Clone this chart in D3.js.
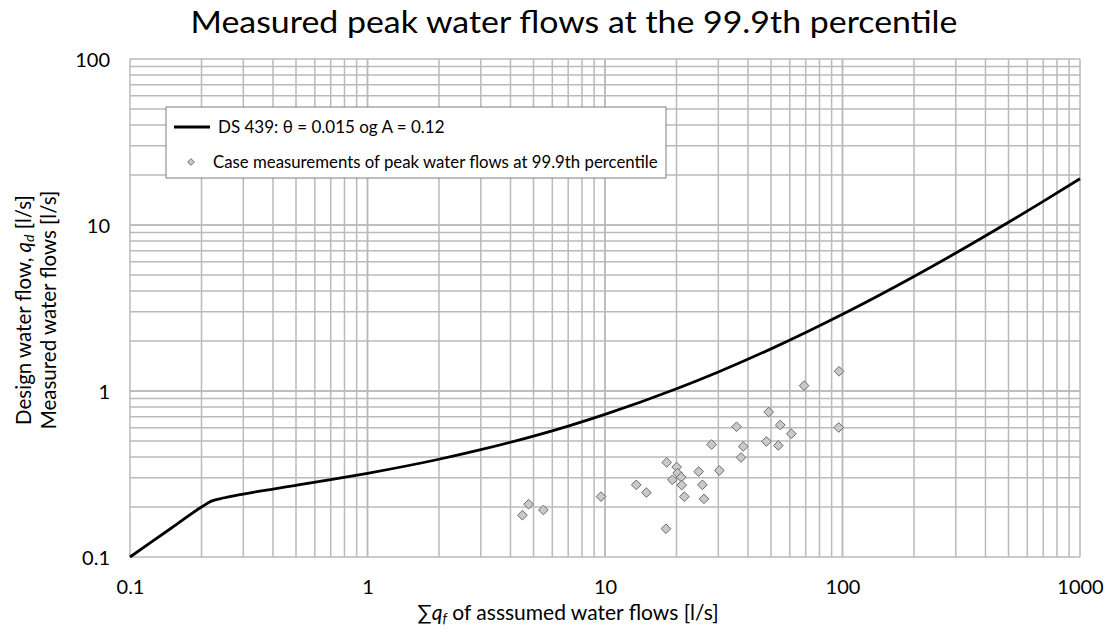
<!DOCTYPE html>
<html><head><meta charset="utf-8">
<script src="https://cdn.jsdelivr.net/npm/d3@7"></script>
<style>body{margin:0;background:#fff}svg{display:block}text{font-family:Lato,"Open Sans",sans-serif;fill:#000}</style>
</head><body><svg id="c" width="1109" height="630"></svg>
<script>
// DS 439 design curve
const curveX = [0.1, 0.15, 0.2, 0.22, 0.25, 0.3, 0.4, 0.5, 0.7, 1, 2, 3, 5, 7, 10, 20, 30, 50, 70, 100, 200, 300, 500, 700, 1000];
const curveY = [0.1, 0.15, 0.2, 0.217, 0.2275, 0.2395, 0.2567, 0.2702, 0.2924, 0.3193, 0.388, 0.443, 0.535, 0.615, 0.723, 1.031, 1.302, 1.794, 2.25, 2.896, 4.893, 6.775, 10.38, 13.87, 18.99];
// Case measurements
const measX = [4.49, 4.77, 5.50, 9.62, 13.54, 14.93, 18.06, 18.19, 19.2, 20.04, 20.23, 20.95, 21.04, 21.58, 24.8, 25.7, 26.1, 28.1, 30.3, 35.8, 38.2, 37.4, 47.8, 48.9, 53.7, 54.7, 60.9, 68.9, 96.7, 96.4];
const measY = [0.1785, 0.208, 0.192, 0.231, 0.272, 0.2444, 0.148, 0.371, 0.2916, 0.348, 0.320, 0.3027, 0.271, 0.231, 0.327, 0.272, 0.224, 0.476, 0.332, 0.609, 0.463, 0.3977, 0.4966, 0.747, 0.4697, 0.624, 0.5527, 1.077, 1.314, 0.603];
const xTicks = [0.1, 1, 10, 100, 1000];
const yTicks = [0.1, 1, 10, 100];
const xTickLabels = ["0.1", "1", "10", "100", "1000"];
const yTickLabels = ["0.1", "1", "10", "100"];
const seriesNames = ["DS 439: θ = 0.015 og A = 0.12", "Case measurements of peak water flows at 99.9th percentile"];

const svg = d3.select("#c");
const L = 130, R = 1080, T = 59, B = 557;
const x = d3.scaleLog().domain([0.1, 1000]).range([L, R]);
const y = d3.scaleLog().domain([0.1, 100]).range([B, T]);

// minor grid values
const minorX = [], minorY = [];
for (let e = -1; e < 3; e++) for (let m = 1; m <= 10; m++) minorX.push(m * Math.pow(10, e));
for (let e = -1; e < 2; e++) for (let m = 1; m <= 10; m++) minorY.push(m * Math.pow(10, e));

const grid = svg.append("g").attr("stroke", "#bababa").attr("stroke-width", 1.5);
grid.selectAll("line.gx").data(minorX).join("line")
  .attr("x1", d => x(d)).attr("x2", d => x(d)).attr("y1", T).attr("y2", B);
grid.selectAll("line.gy").data(minorY).join("line")
  .attr("y1", d => y(d)).attr("y2", d => y(d)).attr("x1", L).attr("x2", R);

// axes (labels only)
const xa = svg.append("g").attr("transform", `translate(0,${B})`)
  .call(d3.axisBottom(x).tickValues(xTicks).tickFormat((d, i) => xTickLabels[i]).tickSize(0).tickPadding(0));
xa.select(".domain").remove();
xa.selectAll("text").attr("dy", null).attr("y", 37).style("font-size", "20px").style("font-family", "Lato,sans-serif").attr("fill", "#000");
const ya = svg.append("g").attr("transform", `translate(${L},0)`)
  .call(d3.axisLeft(y).tickValues(yTicks).tickFormat((d, i) => yTickLabels[i]).tickSize(0).tickPadding(20));
ya.select(".domain").remove();
ya.selectAll("text").attr("dy", "0.36em").style("font-size", "20px").style("font-family", "Lato,sans-serif").attr("fill", "#000");

// curve
const line = d3.line().x(d => x(d[0])).y(d => y(d[1])).curve(d3.curveMonotoneX);
svg.append("path").datum(curveX.map((v, i) => [v, curveY[i]]))
  .attr("d", line).attr("fill", "none").attr("stroke", "#000").attr("stroke-width", 2.8);

// points
const diamond = d3.symbol().type(d3.symbolDiamond2).size(60);
svg.append("g").selectAll("path").data(measX.map((v, i) => [v, measY[i]])).join("path")
  .attr("d", diamond).attr("transform", d => `translate(${x(d[0])},${y(d[1])})`)
  .attr("fill", "#c9c9c9").attr("stroke", "#6b6b6b").attr("stroke-width", 1);

// title
svg.append("text").attr("transform", "translate(574,33) scale(1.13,1)").attr("text-anchor", "middle")
  .style("font-size", "30px").text("Measured peak water flows at the 99.9th percentile");

// x label
const xl = svg.append("text").attr("x", 568).attr("y", 620).attr("text-anchor", "middle").style("font-size", "21px");
xl.append("tspan").text("∑");
xl.append("tspan").attr("font-style", "italic").text("q");
xl.append("tspan").attr("font-style", "italic").attr("dy", 3).style("font-size", "14px").text("f");
xl.append("tspan").attr("dy", -3).text(" of asssumed water flows [l/s]");

// y label
const yl = svg.append("g").attr("transform", "translate(31,310) rotate(-90)");
const t1 = yl.append("text").attr("text-anchor", "middle").attr("y", 0).style("font-size", "20.5px");
t1.append("tspan").text("Design water flow, ");
t1.append("tspan").attr("font-style", "italic").text("q");
t1.append("tspan").attr("font-style", "italic").attr("dy", 3).style("font-size", "14px").text("d");
t1.append("tspan").attr("dy", -3).text(" [l/s]");
yl.append("text").attr("text-anchor", "middle").attr("y", 25).style("font-size", "20.5px").text("Measured water flows [l/s]");

// legend
const lg = svg.append("g");
lg.append("rect").attr("x", 166).attr("y", 107).attr("width", 500).attr("height", 71)
  .attr("fill", "#fff").attr("stroke", "#7f7f7f").attr("stroke-width", 1);
lg.append("line").attr("x1", 174).attr("x2", 210).attr("y1", 127).attr("y2", 127).attr("stroke", "#000").attr("stroke-width", 2.8);
lg.append("text").attr("x", 218).attr("y", 133).style("font-size", "17px").text(seriesNames[0]);
lg.append("path").attr("d", d3.symbol().type(d3.symbolDiamond2).size(28)).attr("transform", "translate(191,162)")
  .attr("fill", "#c9c9c9").attr("stroke", "#6b6b6b").attr("stroke-width", 1);
lg.append("text").attr("x", 213).attr("y", 168).style("font-size", "16.8px").text(seriesNames[1]);
</script></body></html>
